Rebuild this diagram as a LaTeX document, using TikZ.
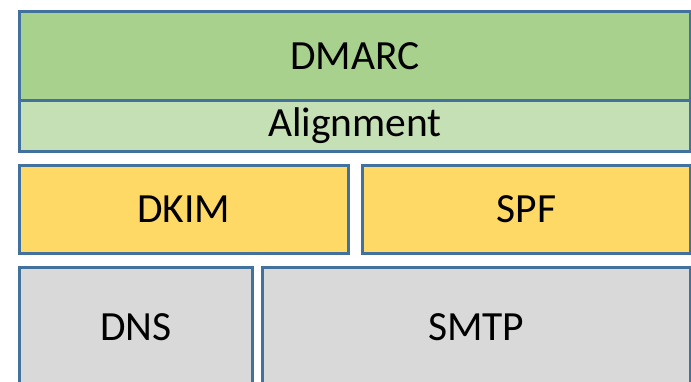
\documentclass[tikz,border=0pt]{standalone}
\usepackage{fontspec}
\setmainfont{Carlito}
\usepackage{tikz}
\definecolor{edgeblue}{HTML}{41719C}
\definecolor{dmarcgreen}{HTML}{A9D18E}
\definecolor{aligngreen}{HTML}{C5E0B4}
\definecolor{authyellow}{HTML}{FFD966}
\definecolor{basegray}{HTML}{D9D9D9}
\tikzset{
  layerbox/.style={draw=edgeblue, line width=2.6pt, inner sep=0pt, anchor=north west,
    font=\fontsize{41.5}{48}\selectfont},
}

\begin{document}
\begin{tikzpicture}[x=1pt, y=-1pt]
			%%%%% START %%%%%
			\useasboundingbox (0, 0) rectangle (691, 381);
			\clip (0, 0) rectangle (691, 381);
			
			\node[layerbox, fill=dmarcgreen, minimum width=671pt, minimum height=89pt] (dmarc) at (18, 10) {DMARC};
			\node[layerbox, fill=aligngreen, minimum width=671pt, minimum height=51pt] (align) at (18, 99) {Alignment};
			
			\node[layerbox, fill=authyellow, minimum width=329pt, minimum height=88pt] (dkim) at (18, 164) {DKIM};
			\node[layerbox, fill=authyellow, minimum width=328pt, minimum height=88pt] (spf) at (361, 164) {SPF};
			
			\node[layerbox, fill=basegray, minimum width=233pt, minimum height=120pt] (dns) at (18, 266) {DNS};
			\node[layerbox, fill=basegray, minimum width=428pt, minimum height=120pt] (smtp) at (261, 266) {SMTP};
			%%%%% END %%%%%
		\end{tikzpicture}
\end{document}
